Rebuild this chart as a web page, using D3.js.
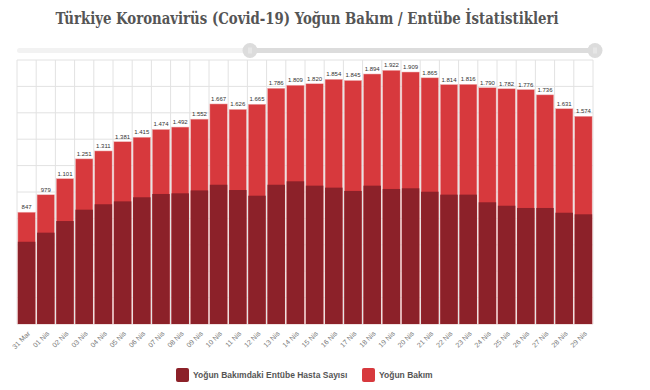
<!DOCTYPE html>
<html>
<head>
<meta charset="utf-8">
<script src="https://cdn.jsdelivr.net/npm/d3@7"></script>
<style>
  body { margin: 0; background: #fff; }
  svg text { font-family: "Liberation Sans", Arial, sans-serif; }
</style>
</head>
<body>
<div id="chart"></div>
<script>
// dates on the x axis
var days = ["31 Mar", "01 Nis", "02 Nis", "03 Nis", "04 Nis", "05 Nis", "06 Nis", "07 Nis", "08 Nis", "09 Nis",
  "10 Nis", "11 Nis", "12 Nis", "13 Nis", "14 Nis", "15 Nis", "16 Nis", "17 Nis", "18 Nis", "19 Nis",
  "20 Nis", "21 Nis", "22 Nis", "23 Nis", "24 Nis", "25 Nis", "26 Nis", "27 Nis", "28 Nis", "29 Nis"];

// yogun bakim (total, labelled)
var icu = [847, 979, 1101, 1251, 1311, 1381, 1415, 1474, 1492, 1552,
  1667, 1626, 1665, 1786, 1809, 1820, 1854, 1845, 1894, 1922,
  1909, 1865, 1814, 1816, 1790, 1782, 1776, 1736, 1631, 1574];

// entube hasta sayisi
var intubated = [623, 692, 780, 866, 907, 929, 960, 985, 990, 1012,
  1055, 1015, 972, 1055, 1081, 1048, 1033, 1008, 1048, 1023,
  1028, 1002, 980, 980, 922, 896, 879, 879, 843, 831];

var yTicks = [0, 200, 400, 600, 800, 1000, 1200, 1400, 1600, 1800, 2000];

var seriesNames = ["Yoğun Bakımdaki Entübe Hasta Sayısı", "Yoğun Bakım"];
var seriesColors = ["#8c2129", "#d7393d"];

var width = 650, height = 390;
var plot = {left: 17, right: 593, top: 60, bottom: 324};

var svg = d3.select("#chart").append("svg")
  .attr("width", width)
  .attr("height", height);

// title
svg.append("text")
  .attr("x", 307)
  .attr("y", 24)
  .attr("text-anchor", "middle")
  .attr("textLength", 503)
  .attr("lengthAdjust", "spacingAndGlyphs")
  .style("font-family", "'DejaVu Serif', serif")
  .style("font-stretch", "condensed")
  .style("font-weight", "bold")
  .style("font-size", "16px")
  .style("fill", "#555")
  .text("Türkiye Koronavirüs (Covid-19) Yoğun Bakım / Entübe İstatistikleri");

// range slider (decoration)
var slider = svg.append("g");
slider.append("rect")
  .attr("x", 17).attr("y", 48).attr("width", 580).attr("height", 5)
  .attr("rx", 2.5).style("fill", "#f2f2f2");
slider.append("rect")
  .attr("x", 250).attr("y", 48).attr("width", 346).attr("height", 5)
  .style("fill", "#dcdcdc");
[250, 595].forEach(function (cx) {
  slider.append("circle")
    .attr("cx", cx).attr("cy", 50.5).attr("r", 7.5)
    .style("fill", "#dcdcdc");
  slider.append("line")
    .attr("x1", cx - 1).attr("x2", cx - 1).attr("y1", 47.5).attr("y2", 53.5)
    .style("stroke", "#fff").style("stroke-width", 0.6);
  slider.append("line")
    .attr("x1", cx + 1).attr("x2", cx + 1).attr("y1", 47.5).attr("y2", 53.5)
    .style("stroke", "#fff").style("stroke-width", 0.6);
});

var x = d3.scaleBand()
  .domain(days)
  .range([plot.left, plot.right])
  .paddingInner(0.09)
  .paddingOuter(0.045);

var y = d3.scaleLinear()
  .domain([0, 2000])
  .range([plot.bottom, plot.top]);

// grid
var grid = svg.append("g");
grid.selectAll(".h")
  .data(yTicks)
  .enter().append("line")
  .attr("x1", plot.left).attr("x2", plot.right)
  .attr("y1", function (d) { return y(d); })
  .attr("y2", function (d) { return y(d); })
  .style("stroke", "#e2e2e2").style("stroke-width", 1);

grid.selectAll(".v")
  .data(d3.range(days.length + 1))
  .enter().append("line")
  .attr("x1", function (i) { return plot.left + i * (plot.right - plot.left) / days.length; })
  .attr("x2", function (i) { return plot.left + i * (plot.right - plot.left) / days.length; })
  .attr("y1", plot.top).attr("y2", plot.bottom)
  .style("stroke", "#e2e2e2").style("stroke-width", 1);

// total bars
svg.append("g").selectAll("rect")
  .data(icu)
  .enter().append("rect")
  .attr("x", function (d, i) { return x(days[i]); })
  .attr("y", function (d) { return y(d); })
  .attr("width", x.bandwidth())
  .attr("height", function (d) { return y(0) - y(d); })
  .style("fill", seriesColors[1])
  .style("stroke", "#f1b7b8")
  .style("stroke-width", 0.5);

// intubated bars on top
svg.append("g").selectAll("rect")
  .data(intubated)
  .enter().append("rect")
  .attr("x", function (d, i) { return x(days[i]); })
  .attr("y", function (d) { return y(d); })
  .attr("width", x.bandwidth())
  .attr("height", function (d) { return y(0) - y(d); })
  .style("fill", seriesColors[0]);

// value labels
var fmt = function (v) { return d3.format(",")(v).replace(",", "."); };
svg.append("g").selectAll("text")
  .data(icu)
  .enter().append("text")
  .attr("x", function (d, i) { return x(days[i]) + x.bandwidth() / 2; })
  .attr("y", function (d) { return y(d) - 3; })
  .attr("text-anchor", "middle")
  .style("font-size", "6px")
  .style("fill", "#333")
  .text(fmt);

// x labels
svg.append("g").selectAll("text")
  .data(days)
  .enter().append("text")
  .attr("transform", function (d) {
    return "translate(" + (x(d) + x.bandwidth() / 2 + 4) + "," + (plot.bottom + 10) + ") rotate(-45)";
  })
  .attr("text-anchor", "end")
  .style("font-size", "7px")
  .style("fill", "#777")
  .text(function (d) { return d; });

// legend
var legendX = [176, 362];
var legend = svg.selectAll(".legend")
  .data(seriesNames)
  .enter().append("g")
  .attr("class", "legend")
  .attr("transform", function (d, i) { return "translate(" + legendX[i] + ",368)"; });

legend.append("rect")
  .attr("width", 13).attr("height", 14).attr("rx", 2)
  .style("fill", function (d, i) { return seriesColors[i]; });

legend.append("text")
  .attr("x", 17).attr("y", 10)
  .style("font-size", "8.5px")
  .style("font-weight", "bold")
  .style("fill", "#555")
  .text(function (d) { return d; });
</script>
</body>
</html>
